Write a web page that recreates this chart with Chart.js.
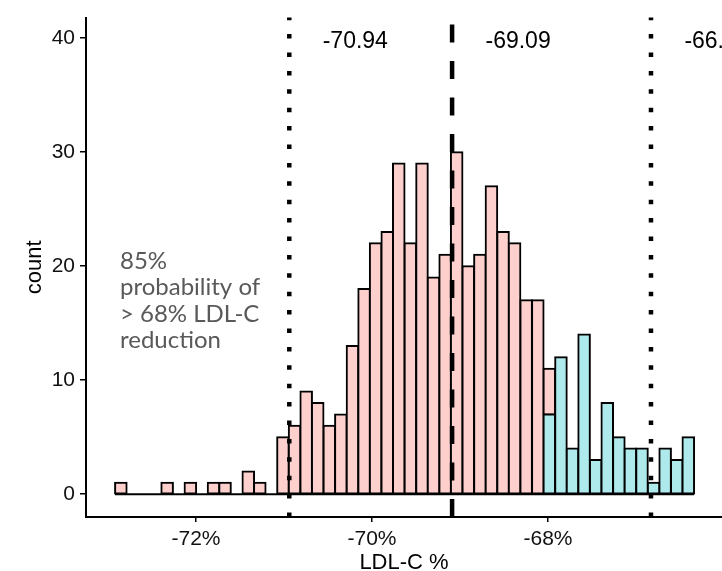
<!DOCTYPE html>
<html>
<head>
<meta charset="utf-8">
<script src="https://cdn.jsdelivr.net/npm/chart.js@4.4.1/dist/chart.umd.min.js"></script>
<style>
body{margin:0;background:#fff;overflow:hidden}
</style>
</head>
<body>
<canvas id="chart" width="722" height="571"></canvas>
<script>
// histogram bins (centre of each bin, LDL-C % change)
const binCenters = [
  -72.854, -72.722, -72.591, -72.459, -72.328, -72.196, -72.064, -71.933, -71.801, -71.670,
  -71.538, -71.406, -71.275, -71.143, -71.012, -70.880, -70.748, -70.617, -70.485, -70.354,
  -70.222, -70.090, -69.959, -69.827, -69.696, -69.564, -69.432, -69.301, -69.169, -69.038,
  -68.906, -68.774, -68.643, -68.511, -68.380, -68.248, -68.116, -67.985, -67.853, -67.722,
  -67.590, -67.458, -67.327, -67.195, -67.064, -66.932, -66.800, -66.669, -66.537, -66.406
];
// counts below -68% (pink) and above (cyan)
const belowCounts = [
  1, 0, 0, 0, 1, 0, 1, 0, 1, 1,
  0, 2, 1, 0, 5, 6, 9, 8, 6, 7,
  13, 18, 22, 23, 29, 22, 29, 19, 21, 30,
  20, 21, 27, 23, 22, 17, 17, 4, null, null,
  null, null, null, null, null, null, null, null, null, null
];
const aboveCounts = [
  null, null, null, null, null, null, null, null, null, null,
  null, null, null, null, null, null, null, null, null, null,
  null, null, null, null, null, null, null, null, null, null,
  null, null, null, null, null, null, null, 7, 12, 4,
  14, 3, 8, 5, 4, 4, 1, 4, 3, 5
];
const xTicks = [-72, -70, -68];
const yTicks = [0, 10, 20, 30, 40];
const cutoffs = [-70.94, -69.09, -66.83];
const cutoffLabels = ["-70.94", "-69.09", "-66.83"];
const noteLines = ["85%", "probability of", "> 68% LDL-C", "reduction"];

const FONT = '"Liberation Sans", Arial, sans-serif';
const half = (binCenters[1] - binCenters[0]) / 2;

const overlay = {
  id: "overlay",
  afterDatasetsDraw(chart) {
    const {ctx, chartArea: a, scales: {x, y}} = chart;
    ctx.save();
    cutoffs.forEach((v, i) => {
      const px = x.getPixelForValue(v);
      ctx.beginPath();
      ctx.lineWidth = 4.5;
      ctx.lineCap = "butt";
      ctx.strokeStyle = "#000";
      ctx.setLineDash(i == 1 ? [18, 18.5] : [4.5, 13.9]);
      ctx.moveTo(px, a.bottom);
      ctx.lineTo(px, a.top);
      ctx.stroke();
      ctx.setLineDash([]);
      ctx.font = "23px " + FONT;
      ctx.fillStyle = "#000";
      ctx.textAlign = "center";
      ctx.textBaseline = "middle";
      ctx.fillText(cutoffLabels[i], x.getPixelForValue(v + 0.75), y.getPixelForValue(39.7));
    });
    // probability note
    ctx.font = '24px Lato, "Open Sans", sans-serif';
    ctx.fillStyle = "#595959";
    ctx.textAlign = "left";
    ctx.textBaseline = "alphabetic";
    noteLines.forEach((t, i) => {
      ctx.fillText(t, x.getPixelForValue(-72.864), y.getPixelForValue(19.75 - i * 2.32));
    });
    ctx.restore();
  }
};

new Chart(document.getElementById("chart"), {
  type: "bar",
  data: {
    datasets: [
      {
        label: "above",
        data: binCenters.map((c, i) => ({x: c, y: aboveCounts[i]})),
        backgroundColor: "#AEE9EC",
        borderColor: "#000",
        borderWidth: 2,
        borderSkipped: false,
        inflateAmount: 1,
        barPercentage: 1,
        categoryPercentage: 1
      },
      {
        label: "below",
        data: binCenters.map((c, i) => ({x: c, y: belowCounts[i]})),
        backgroundColor: "#FDD0CD",
        borderColor: "#000",
        borderWidth: 2,
        borderSkipped: false,
        inflateAmount: 1,
        barPercentage: 1,
        categoryPercentage: 1
      },
      {
        type: "line",
        label: "base",
        data: [{x: binCenters[0] - half, y: 0}, {x: binCenters[binCenters.length - 1] + half, y: 0}],
        borderColor: "#000",
        borderWidth: 2,
        pointRadius: 0,
        order: -1
      }
    ]
  },
  options: {
    responsive: false,
    devicePixelRatio: 1,
    animation: false,
    layout: {padding: {top: 13, left: 0, right: 0, bottom: 0}},
    plugins: {legend: {display: false}, tooltip: {enabled: false}},
    scales: {
      x: {
        type: "linear",
        min: -73.25,
        max: -66.023,
        offset: false,
        stacked: true,
        afterBuildTicks: s => { s.ticks = xTicks.map(v => ({value: v})); },
        afterFit: s => { s.height = 54; },
        ticks: {callback: v => v + "%", font: {family: FONT, size: 21}, color: "#111", padding: 5, maxRotation: 0, autoSkip: false},
        grid: {display: true, offset: false, drawOnChartArea: false, drawTicks: true, tickLength: 5, color: "#000", lineWidth: 1.5},
        border: {display: true, color: "#000", width: 2},
        title: {display: true, text: "LDL-C %", font: {family: FONT, size: 22, lineHeight: 0.7}, color: "#000", padding: 0}
      },
      y: {
        min: -2,
        max: 41.8,
        stacked: true,
        afterBuildTicks: s => { s.ticks = yTicks.map(v => ({value: v})); },
        afterFit: s => { s.width = 86; },
        ticks: {font: {family: FONT, size: 21}, color: "#111", padding: 5},
        grid: {display: true, drawOnChartArea: false, drawTicks: true, tickLength: 6, color: "#000", lineWidth: 1.5},
        border: {display: true, color: "#000", width: 2},
        title: {display: true, text: "count", font: {family: FONT, size: 22, lineHeight: 1}, color: "#000", padding: {top: 24, bottom: 0}}
      }
    }
  },
  plugins: [overlay]
});
</script>
</body>
</html>
